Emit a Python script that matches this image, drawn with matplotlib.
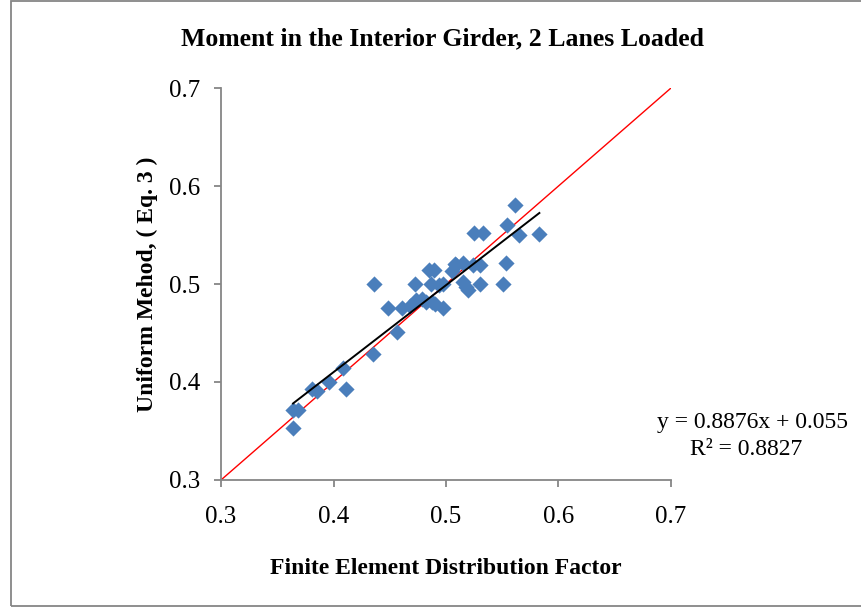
import matplotlib
matplotlib.use("Agg")
import matplotlib.pyplot as plt
from matplotlib.patches import Rectangle
import numpy as np

plt.rcParams['font.family'] = ['Liberation Serif', 'DejaVu Serif']

title = "Moment in the Interior Girder, 2 Lanes Loaded"
xlabel = "Finite Element Distribution Factor"
ylabel = "Uniform Mehod, ( Eq. 3 )"
ticks = [0.3, 0.4, 0.5, 0.6, 0.7]
tick_labels = ["0.3", "0.4", "0.5", "0.6", "0.7"]

fe_factor = [0.364, 0.364, 0.368, 0.381, 0.385, 0.396, 0.408, 0.411, 0.435, 0.436,
             0.448, 0.456, 0.461, 0.468, 0.473, 0.472, 0.479, 0.482, 0.485, 0.489,
             0.487, 0.488, 0.490, 0.497, 0.497, 0.509, 0.505, 0.515, 0.515, 0.518,
             0.520, 0.524, 0.530, 0.530, 0.525, 0.533, 0.551, 0.554, 0.553, 0.561,
             0.565, 0.583, 0.494, 0.508]
uniform = [0.353, 0.371, 0.371, 0.393, 0.391, 0.400, 0.414, 0.393, 0.429, 0.500,
           0.475, 0.451, 0.475, 0.478, 0.484, 0.500, 0.485, 0.482, 0.514, 0.514,
           0.500, 0.482, 0.480, 0.475, 0.500, 0.519, 0.513, 0.521, 0.502, 0.497,
           0.494, 0.519, 0.519, 0.500, 0.552, 0.552, 0.500, 0.560, 0.521, 0.581,
           0.550, 0.551, 0.499, 0.520]

slope = 0.8876
intercept = 0.055
eq_text = "y = 0.8876x + 0.055"
r2_text = "R² = 0.8827"

fig = plt.figure(figsize=(8.62, 6.13), dpi=100)
ax = fig.add_axes([0.2564, 0.2170, 0.5220, 0.6394])

gray = "#868686"
ax.plot([0.3, 0.7], [0.3, 0.7], color="red", lw=1.0, zorder=2)
ax.scatter(fe_factor, uniform, marker="D", s=68, color="#4A7EBB", linewidths=0, zorder=3)
xs = np.array([min(fe_factor), max(fe_factor)])
ax.plot(xs, slope * xs + intercept, color="black", lw=1.4, zorder=4)

ax.set_xlim(0.3, 0.7)
ax.set_ylim(0.3, 0.7)
ax.set_xticks(ticks)
ax.set_xticklabels(tick_labels)
ax.set_yticks(ticks)
ax.set_yticklabels(tick_labels)
for s in ["top", "right"]:
    ax.spines[s].set_visible(False)
for s in ["left", "bottom"]:
    ax.spines[s].set_color(gray)
    ax.spines[s].set_linewidth(1.3)
ax.tick_params(direction="out", length=5, width=1.3, color=gray, labelsize=18, pad=10)
ax.xaxis.set_tick_params(pad=14)

ax.set_xlabel(xlabel, fontsize=17, fontweight="bold", labelpad=21)
ax.set_ylabel(ylabel, fontsize=17, fontweight="bold", labelpad=8)
fig.text(0.5128, 0.937, title, fontsize=18.5, fontweight="bold", ha="center", va="center")

fig.text(0.8735, 0.310, eq_text, fontsize=17, ha="center", va="center")
fig.text(0.8655, 0.266, r2_text, fontsize=17, ha="center", va="center")

fig.patches.append(Rectangle((11/862, 1 - 606/613), (880-11)/862, (606-1)/613,
                             transform=fig.transFigure, fill=False, edgecolor=gray, lw=1.3))

fig.savefig("out.png", dpi=100)
